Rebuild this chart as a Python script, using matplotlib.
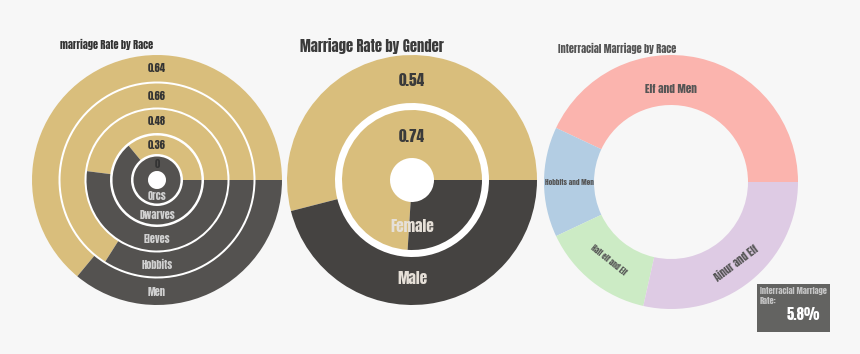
import numpy as np
import matplotlib
matplotlib.use("Agg")
import matplotlib.pyplot as plt
from matplotlib.patches import Rectangle

# ---------------- data ----------------
race_names = ["Men", "Hobbits", "Eleves", "Dwarves", "Orcs"]
race_rates = [0.64, 0.66, 0.48, 0.36, 0.0]

gender_names = ["Male", "Female"]
gender_rates = [0.54, 0.74]

inter_names = ["Elf and Men", "Hobbits and Men", "Half elf and Elf", "Ainur and Elf"]
inter_values = [43.0, 14.0, 14.5, 28.5]

interracial_rate = "5.8%"

# ---------------- style ----------------
W, H = 860, 354
BG = "#F7F7F7"
TAN = "#D9BE7C"
DARK_L = "#545250"
DARK_C = "#454341"
PASTEL = ["#FBB4AE", "#B3CDE3", "#CCEBC5", "#DECBE4"]

plt.rcParams["font.family"] = ["Anton", "DejaVu Sans"]
plt.rcParams["font.weight"] = "normal"

fig = plt.figure(figsize=(W / 100, H / 100), dpi=100, facecolor=BG)

S = 135


def make_ax(cx, cy):
    ax = fig.add_axes([(cx - S) / W, (H - cy - S) / H, 2 * S / W, 2 * S / H])
    ax.set_xlim(-S, S)
    ax.set_ylim(-S, S)
    ax.set_aspect("equal")
    ax.axis("off")
    return ax


def polar(r, deg):
    t = np.deg2rad(deg)
    return r * np.cos(t), r * np.sin(t)


# ---------------- left: marriage rate by race ----------------
ax1 = make_ax(157, 180)
ax1.pie([1], radius=125, colors=["white"], startangle=0)
outer_r = [125, 96.5, 70.5, 44.5, 23.5]
inner_r = [98.5, 72.5, 47, 26, 9]
for name, rate, ro, ri in zip(race_names, race_rates, outer_r, inner_r):
    vals = [rate, 1 - rate]
    ax1.pie(vals, radius=ro, colors=[TAN, DARK_L], startangle=0, counterclock=True,
            wedgeprops=dict(width=ro - ri, linewidth=0))
    rm = (ro + ri) / 2
    ax1.text(*polar(rm, 90), f"{rate:g}", ha="center", va="center",
             fontsize=7.5, color="#333333")
    ax1.text(*polar(rm, 270), name, ha="center", va="center",
             fontsize=7.5, color="#D0D0D0")
ax1.set_xlim(-S, S)
ax1.set_ylim(-S, S)

fig.text(60 / W, 1 - 44 / H, "marriage Rate by Race", fontsize=7.5,
         color="#333333", ha="left", va="center")

# ---------------- center: marriage rate by gender ----------------
ax2 = make_ax(412, 180)
ax2.pie([1], radius=125, colors=["white"], startangle=0)
g_outer = [125, 70]
g_inner = [77, 22]
g_pos = [(100, 98), (43, 47)]
for name, rate, ro, ri, (rt, rb) in zip(gender_names, gender_rates, g_outer, g_inner, g_pos):
    ax2.pie([rate, 1 - rate], radius=ro, colors=[TAN, DARK_C], startangle=0,
            wedgeprops=dict(width=ro - ri, linewidth=0))
    ax2.text(*polar(rt, 90), f"{rate:g}", ha="center", va="center",
             fontsize=11, color="#3A3A3A")
    ax2.text(*polar(rb, 270), name, ha="center", va="center",
             fontsize=11, color="#E6E0D8")
ax2.set_xlim(-S, S)
ax2.set_ylim(-S, S)

fig.text(300 / W, 1 - 46 / H, "Marriage Rate by Gender", fontsize=10.5,
         color="#3A3A3A", ha="left", va="center")

# ---------------- right: interracial marriage ----------------
ax3 = make_ax(671, 182)
wedges, _ = ax3.pie(inter_values, radius=127, colors=PASTEL, startangle=0,
                    wedgeprops=dict(width=50, linewidth=0))
label_sizes = [8, 5.2, 5.5, 7.5]
label_r = [93, 102, 100, 104]
for i, (w, name) in enumerate(zip(wedges, inter_names)):
    mid = (w.theta1 + w.theta2) / 2
    if i == 0:
        ang, rot = 90, 0
    elif i == 1:
        ang, rot = mid, 0
    elif i == 2:
        ang, rot = mid, mid - 270
    else:
        ang, rot = mid, 37
    ax3.text(*polar(label_r[i], ang), name, ha="center", va="center", rotation=rot,
             rotation_mode="anchor", fontsize=label_sizes[i], color="#555555")
ax3.set_xlim(-S, S)
ax3.set_ylim(-S, S)

fig.text(558 / W, 1 - 48 / H, "Interracial Marriage by Race", fontsize=7.5,
         color="#555555", ha="left", va="center")

# ---------------- info box ----------------
bx0, by0, bx1, by1 = 757, 284, 830, 332
fig.add_artist(Rectangle((bx0 / W, 1 - by1 / H), (bx1 - bx0) / W, (by1 - by0) / H,
                         transform=fig.transFigure, facecolor="#636361",
                         edgecolor="none"))
fig.text(760 / W, 1 - 291 / H, "Interracial Marriage", fontsize=6,
         color="#C4C4C4", ha="left", va="center")
fig.text(760 / W, 1 - 301 / H, "Rate:", fontsize=6,
         color="#C4C4C4", ha="left", va="center")
fig.text(803 / W, 1 - 314 / H, interracial_rate, fontsize=10.5,
         color="white", ha="center", va="center")

fig.savefig("out.png", dpi=100, facecolor=BG)
